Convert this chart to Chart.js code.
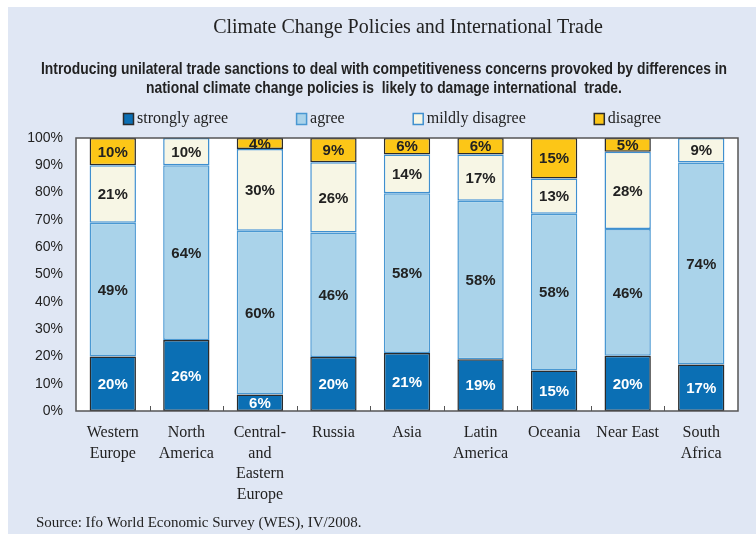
<!DOCTYPE html>
<html>
<head>
<meta charset="utf-8">
<script src="https://cdn.jsdelivr.net/npm/chart.js@4.4.1/dist/chart.umd.min.js"></script>
<style>
  html, body { margin: 0; padding: 0; background: #fff; }
  #wrap { width: 756px; height: 534px; }
</style>
</head>
<body>
<div id="wrap"><canvas id="chart" width="756" height="534"></canvas></div>
<script>
// ============================================
// Data
// ============================================
const regions = [
    ['Western', 'Europe'], ['North', 'America'], ['Central-', 'and', 'Eastern', 'Europe'],
    ['Russia'], ['Asia'], ['Latin', 'America'], ['Oceania'], ['Near East'], ['South', 'Africa']
];
const stronglyAgree   = [20, 26,  6, 20, 21, 19, 15, 20, 17];
const agree           = [49, 64, 60, 46, 58, 58, 58, 46, 74];
const mildlyDisagree  = [21, 10, 30, 26, 14, 17, 13, 28,  9];
const disagree        = [10,  0,  4,  9,  6,  6, 15,  5,  0];
const seriesNames = ['strongly agree', 'agree', 'mildly disagree', 'disagree'];
const yTicks = [0, 10, 20, 30, 40, 50, 60, 70, 80, 90, 100];

const titleText = 'Climate Change Policies and International Trade';
const subtitleLines = [
    'Introducing unilateral trade sanctions to deal with competitiveness concerns provoked by differences in',
    'national climate change policies is  likely to damage international  trade.'
];
const sourceText = 'Source: Ifo World Economic Survey (WES), IV/2008.';

// 100% stacked: each column is scaled to its own total
const allSeries = [stronglyAgree, agree, mildlyDisagree, disagree];
const totals = regions.map((_, i) => allSeries.reduce((s, arr) => s + arr[i], 0));
function shares(arr) {
    return arr.map((v, i) => v / totals[i] * 100);
}

const fills   = ['#0b6fb4', '#aad3ea', '#f7f6e5', '#fcc617'];
const borders = ['#2b2b2b', '#4a98d2', '#3f8fcf', '#2b2b2b'];

const serif = '"Liberation Serif", "Times New Roman", serif';
const sans = '"Liberation Sans", Arial, sans-serif';

// ============================================
// Plugins: panel, titles, legend, labels, frame
// ============================================
const panelPlugin = {
    id: 'panel',
    beforeDraw(chart) {
        const ctx = chart.ctx;
        ctx.save();
        ctx.fillStyle = '#ffffff';
        ctx.fillRect(0, 0, chart.width, chart.height);
        ctx.fillStyle = '#e0e7f4';
        ctx.fillRect(8, 7, chart.width - 8, chart.height - 7);
        // white plot area
        const a = chart.chartArea;
        ctx.fillStyle = '#ffffff';
        ctx.fillRect(a.left, a.top, a.right - a.left, a.bottom - a.top);
        ctx.restore();
    },
    afterDraw(chart) {
        const ctx = chart.ctx;
        const a = chart.chartArea;
        ctx.save();
        ctx.fillStyle = '#222';
        ctx.textAlign = 'center';
        ctx.textBaseline = 'middle';
        ctx.font = '20px ' + serif;
        ctx.fillText(titleText, 408, 28);

        // subtitle: bold sans squeezed to a narrow width
        ctx.font = 'bold 16.5px ' + sans;
        const sx = 686 / ctx.measureText(subtitleLines[0]).width;
        ctx.save();
        ctx.scale(sx, 1);
        ctx.fillText(subtitleLines[0], 384 / sx, 69);
        ctx.fillText(subtitleLines[1], 384 / sx, 88);
        ctx.restore();

        ctx.textAlign = 'left';
        ctx.font = '15px ' + serif;
        ctx.fillText(sourceText, 36, 523);

        // legend
        ctx.font = '16px ' + serif;
        let x = 123;
        const ly = 119;
        seriesNames.forEach((name, i) => {
            ctx.fillStyle = fills[i];
            ctx.fillRect(x, ly - 6, 11, 12);
            ctx.strokeStyle = borders[i];
            ctx.lineWidth = 1.5;
            ctx.strokeRect(x + 0.5, ly - 5.5, 10, 11);
            ctx.fillStyle = '#222';
            ctx.fillText(name, x + 14, ly);
            x += 14 + ctx.measureText(name).width + 68;
        });

        // plot frame
        ctx.strokeStyle = '#555';
        ctx.lineWidth = 1.5;
        ctx.strokeRect(a.left, a.top, a.right - a.left, a.bottom - a.top);

        // small inside tick marks between categories
        const xs = chart.scales.x;
        const step = (a.right - a.left) / regions.length;
        ctx.lineWidth = 1;
        ctx.strokeStyle = '#555';
        for (let i = 1; i < regions.length; i++) {
            const tx = Math.round(xs.getPixelForValue(i) - step / 2) + 0.5;
            ctx.beginPath();
            ctx.moveTo(tx, a.bottom);
            ctx.lineTo(tx, a.bottom - 5);
            ctx.stroke();
        }
        ctx.restore();
    }
};

const barLabelPlugin = {
    id: 'barLabels',
    afterDatasetsDraw(chart) {
        const ctx = chart.ctx;
        ctx.save();
        ctx.font = 'bold 15px ' + sans;
        ctx.textAlign = 'center';
        ctx.textBaseline = 'middle';
        chart.data.datasets.forEach((ds, di) => {
            const meta = chart.getDatasetMeta(di);
            meta.data.forEach((bar, i) => {
                const raw = allSeries[di][i];
                if (!raw) return;
                ctx.fillStyle = di === 0 ? '#ffffff' : '#222222';
                ctx.fillText(raw + '%', bar.x, (bar.y + bar.base) / 2 + 1);
            });
        });
        ctx.restore();
    }
};

// ============================================
// Chart
// ============================================
new Chart(document.getElementById('chart'), {
    type: 'bar',
    data: {
        labels: regions,
        datasets: allSeries.map((arr, i) => ({
            label: seriesNames[i],
            data: shares(arr),
            backgroundColor: fills[i],
            borderColor: borders[i],
            borderWidth: 1.5,
            borderSkipped: false,
            categoryPercentage: 1,
            barPercentage: 0.63
        }))
    },
    options: {
        responsive: false,
        animation: false,
        layout: { padding: { left: 8, top: 138, right: 18, bottom: 23 } },
        plugins: {
            legend: { display: false },
            tooltip: { enabled: false }
        },
        scales: {
            x: {
                stacked: true,
                grid: { display: false },
                border: { display: false },
                ticks: {
                    color: '#222',
                    font: { family: serif, size: 16, lineHeight: 1.28 },
                    padding: 4,
                    maxRotation: 0,
                    autoSkip: false
                },
                afterFit(axis) { axis.height = 100; }
            },
            y: {
                stacked: true,
                min: 0,
                max: 100,
                grid: { display: false, drawTicks: false },
                border: { display: false },
                afterBuildTicks(axis) { axis.ticks = yTicks.map(v => ({ value: v })); },
                ticks: {
                    color: '#222',
                    font: { family: sans, size: 14 },
                    padding: 13,
                    callback: v => v + '%'
                },
                afterFit(axis) { axis.width = 68; }
            }
        }
    },
    plugins: [panelPlugin, barLabelPlugin]
});
</script>
</body>
</html>
